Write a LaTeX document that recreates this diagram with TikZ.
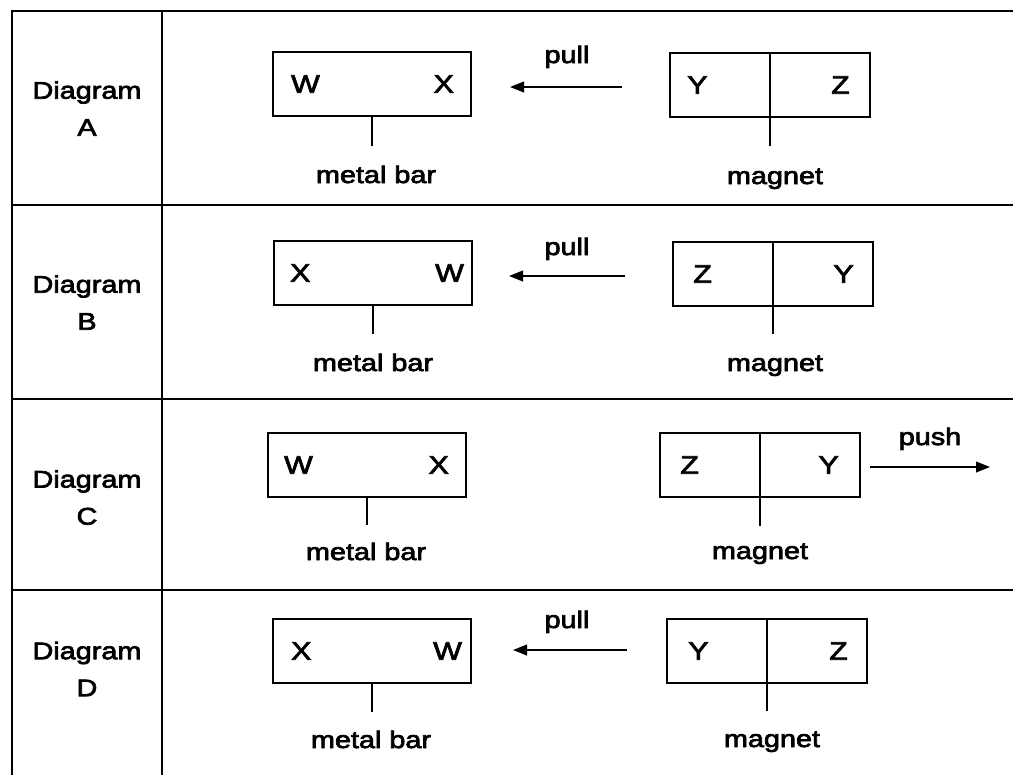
\documentclass[tikz,border=0pt]{standalone}
\usepackage{fontspec}
\setmainfont{Liberation Sans}
\newfontfamily\lblfont[FakeStretch=1.2,FakeBold=3]{Liberation Sans}
\usetikzlibrary{arrows.meta}
\newlength\pxu
\setlength\pxu{0.75pt}
\begin{document}
\begin{tikzpicture}[x=0.75pt,y=-0.75pt,
  tbl/.style={line width=2pt},
  bar/.style={draw, line width=1.7pt, minimum width=198\pxu, minimum height=64\pxu, inner sep=0pt},
  half/.style={draw, line width=1.7pt, minimum width=100\pxu, minimum height=64\pxu, inner sep=0pt, outer sep=0pt},
  tick/.style={line width=1.7pt},
  arr/.style={line width=1.4pt, -{Triangle[length=10.5pt,width=8pt]}},
  txt/.style={font=\lblfont\fontsize{18}{20}\selectfont, inner sep=0pt},
  let/.style={font=\lblfont\fontsize{19}{20}\selectfont, inner sep=0pt},
  rowlbl/.style={font=\lblfont\fontsize{18}{27.75}\selectfont, align=center, inner sep=0pt}
]
\useasboundingbox (0,0) rectangle (1013,775);

% table
\draw[tbl] (12,775) -- (12,11) -- (1013,11);
\draw[tbl] (162,11) -- (162,775);
\draw[tbl] (12,205) -- (1013,205);
\draw[tbl] (12,399) -- (1013,399);
\draw[tbl] (12,590) -- (1013,590);

% row labels
\node[rowlbl] (dA) at (87,108.5) {Diagram\\A};
\node[rowlbl] (dB) at (87,302.5) {Diagram\\B};
\node[rowlbl] (dC) at (87,497.5) {Diagram\\C};
\node[rowlbl] (dD) at (87,669) {Diagram\\D};

% ---------- Row A ----------
\node[bar] (mA) at (372,84) {};
\node[let, anchor=west] (mAl) at ([xshift=19\pxu]mA.west) {W};
\node[let, anchor=east] (mAr) at ([xshift=-18\pxu]mA.east) {X};
\draw[tick] (mA.south) -- ++(0,29) coordinate (mAt);
\node[txt, anchor=base] (mAn) at (376,183) {metal bar};
\node[half, anchor=east] (gAl) at (770,85) {};
\node[half, anchor=west] (gAr) at (770,85) {};
\node[let, anchor=west] (gAlt) at ([xshift=17\pxu]gAl.west) {Y};
\node[let, anchor=east] (gArt) at ([xshift=-20\pxu]gAr.east) {Z};
\draw[tick] (gAl.south east) -- ++(0,29) coordinate (gAt);
\node[txt, anchor=base] (gAn) at (775,184) {magnet};
\coordinate (pAs) at (622,87);
\coordinate (pAe) at (510,87);
\draw[arr] (pAs) -- (pAe);
\node[txt, anchor=base] (pA) at (567,63) {pull};

% ---------- Row B ----------
\node[bar] (mB) at (373,273) {};
\node[let, anchor=west] (mBl) at ([xshift=17\pxu]mB.west) {X};
\node[let, anchor=east] (mBr) at ([xshift=-9\pxu]mB.east) {W};
\draw[tick] (mB.south) -- ++(0,28) coordinate (mBt);
\node[txt, anchor=base] (mBn) at (373,371) {metal bar};
\node[half, anchor=east] (gBl) at (773,274) {};
\node[half, anchor=west] (gBr) at (773,274) {};
\node[let, anchor=west] (gBlt) at ([xshift=20\pxu]gBl.west) {Z};
\node[let, anchor=east] (gBrt) at ([xshift=-19\pxu]gBr.east) {Y};
\draw[tick] (gBl.south east) -- ++(0,28) coordinate (gBt);
\node[txt, anchor=base] (gBn) at (775,371) {magnet};
\coordinate (pBs) at (625,276);
\coordinate (pBe) at (509,276);
\draw[arr] (pBs) -- (pBe);
\node[txt, anchor=base] (pB) at (567,255) {pull};

% ---------- Row C ----------
\node[bar] (mC) at (367,465) {};
\node[let, anchor=west] (mCl) at ([xshift=17\pxu]mC.west) {W};
\node[let, anchor=east] (mCr) at ([xshift=-18\pxu]mC.east) {X};
\draw[tick] (mC.south) -- ++(0,27) coordinate (mCt);
\node[txt, anchor=base] (mCn) at (366,560) {metal bar};
\node[half, anchor=east] (gCl) at (760,465) {};
\node[half, anchor=west] (gCr) at (760,465) {};
\node[let, anchor=west] (gClt) at ([xshift=20\pxu]gCl.west) {Z};
\node[let, anchor=east] (gCrt) at ([xshift=-21\pxu]gCr.east) {Y};
\draw[tick] (gCl.south east) -- ++(0,29) coordinate (gCt);
\node[txt, anchor=base] (gCn) at (760,559) {magnet};
\coordinate (pCs) at (870,467);
\coordinate (pCe) at (990,467);
\draw[arr] (pCs) -- (pCe);
\node[txt, anchor=base] (pC) at (930,445) {push};

% ---------- Row D ----------
\node[bar] (mD) at (372,651) {};
\node[let, anchor=west] (mDl) at ([xshift=19\pxu]mD.west) {X};
\node[let, anchor=east] (mDr) at ([xshift=-10\pxu]mD.east) {W};
\draw[tick] (mD.south) -- ++(0,28) coordinate (mDt);
\node[txt, anchor=base] (mDn) at (371,748) {metal bar};
\node[half, anchor=east] (gDl) at (767,651) {};
\node[half, anchor=west] (gDr) at (767,651) {};
\node[let, anchor=west] (gDlt) at ([xshift=21\pxu]gDl.west) {Y};
\node[let, anchor=east] (gDrt) at ([xshift=-19\pxu]gDr.east) {Z};
\draw[tick] (gDl.south east) -- ++(0,28) coordinate (gDt);
\node[txt, anchor=base] (gDn) at (772,747) {magnet};
\coordinate (pDs) at (627,650);
\coordinate (pDe) at (513,650);
\draw[arr] (pDs) -- (pDe);
\node[txt, anchor=base] (pD) at (567,628) {pull};
\end{tikzpicture}
\end{document}
